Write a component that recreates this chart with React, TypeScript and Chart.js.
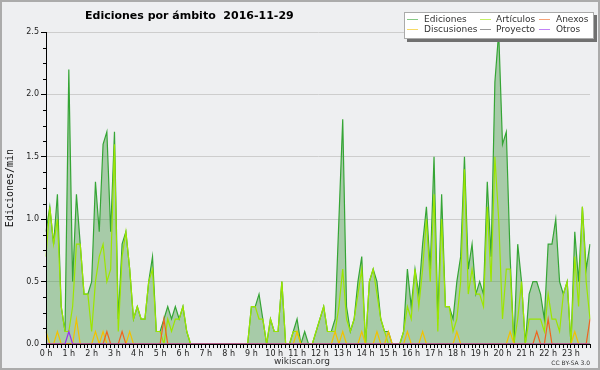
import React, { useEffect, useRef } from 'react';
import { Chart, registerables } from 'chart.js';

Chart.register(...registerables);

// 10-minute slots of the day (categories)
const times: string[] = [];
for (let h = 0; h < 24; h++) {
  for (let m = 0; m < 60; m += 10) times.push(`${h}:${m < 10 ? '0' + m : m}`);
}

const hourLabels = [
  '0 h', '1 h', '2 h', '3 h', '4 h', '5 h', '6 h', '7 h', '8 h', '9 h', '10 h', '11 h',
  '12 h', '13 h', '14 h', '15 h', '16 h', '17 h', '18 h', '19 h', '20 h', '21 h', '22 h', '23 h',
];

const yTicks = [0, 0.5, 1, 1.5, 2, 2.5];

const ediciones = [
  0.9, 1.1, 0.8, 1.2, 0.3, 0.1, 2.2, 0.5, 1.2, 0.8, 0.4, 0.4,
  0.5, 1.3, 0.9, 1.6, 1.7, 0.9, 1.7, 0.2, 0.8, 0.9, 0.6, 0.2,
  0.3, 0.2, 0.2, 0.5, 0.7, 0.1, 0.1, 0.2, 0.3, 0.2, 0.3, 0.2,
  0.3, 0.1, 0, 0, 0, 0, 0, 0, 0, 0, 0, 0,
  0, 0, 0, 0, 0, 0, 0.3, 0.3, 0.4, 0.2, 0, 0.2,
  0.1, 0.1, 0.5, 0, 0, 0.1, 0.2, 0, 0.1, 0, 0, 0.1,
  0.2, 0.3, 0.1, 0.1, 0.2, 1.0, 1.8, 0.3, 0.1, 0.2, 0.5, 0.7,
  0, 0.5, 0.6, 0.5, 0.2, 0.1, 0.1, 0, 0, 0, 0.1, 0.6,
  0.3, 0.6, 0.4, 0.8, 1.1, 0.6, 1.5, 0.2, 1.2, 0.3, 0.3, 0.2,
  0.5, 0.7, 1.5, 0.6, 0.8, 0.4, 0.5, 0.4, 1.3, 0.7, 2.1, 2.5,
  1.6, 1.7, 0.7, 0, 0.8, 0.5, 0, 0.4, 0.5, 0.5, 0.4, 0.2,
  0.8, 0.8, 1.0, 0.5, 0.4, 0.5, 0, 0.9, 0.5, 1.1, 0.6, 0.8,
];

const articulos = [
  0.7, 1.1, 0.8, 1.0, 0.3, 0.1, 0.1, 0.3, 0.8, 0.8, 0.4, 0.4,
  0.1, 0.5, 0.7, 0.8, 0.5, 0.6, 1.6, 0.1, 0.7, 0.9, 0.6, 0.2,
  0.3, 0.2, 0.2, 0.5, 0.6, 0.1, 0.1, 0, 0.2, 0.1, 0.2, 0.2,
  0.3, 0.1, 0, 0, 0, 0, 0, 0, 0, 0, 0, 0,
  0, 0, 0, 0, 0, 0, 0.3, 0.3, 0.2, 0.2, 0, 0.2,
  0.1, 0.1, 0.5, 0, 0, 0.1, 0.1, 0, 0, 0, 0, 0.1,
  0.2, 0.3, 0.1, 0.1, 0.1, 0.3, 0.6, 0.2, 0.1, 0.2, 0.4, 0.6,
  0, 0.5, 0.6, 0.4, 0.2, 0.1, 0, 0, 0, 0, 0.1, 0.3,
  0.2, 0.6, 0.3, 0.6, 1.0, 0.5, 1.2, 0.1, 1.0, 0.3, 0.3, 0.1,
  0.2, 0.5, 1.4, 0.4, 0.6, 0.4, 0.4, 0.3, 1.1, 0.5, 1.5, 1.0,
  0.2, 0.6, 0.6, 0, 0.2, 0.5, 0, 0.2, 0.2, 0.2, 0.2, 0.1,
  0.4, 0.2, 0.2, 0.1, 0.4, 0.5, 0, 0.7, 0.3, 1.1, 0.5, 0.2,
];

const anexos = [
  0, 0, 0, 0, 0, 0, 0, 0, 0, 0, 0, 0,
  0, 0, 0, 0, 0.1, 0, 0, 0, 0.1, 0, 0, 0,
  0, 0, 0, 0, 0, 0, 0, 0.2, 0, 0, 0, 0,
  0, 0, 0, 0, 0, 0, 0, 0, 0, 0, 0, 0,
  0, 0, 0, 0, 0, 0, 0, 0, 0, 0, 0, 0,
  0, 0, 0, 0, 0, 0, 0, 0, 0, 0, 0, 0,
  0, 0, 0, 0, 0, 0, 0, 0, 0, 0, 0, 0,
  0, 0, 0, 0, 0, 0, 0, 0, 0, 0, 0, 0,
  0, 0, 0, 0, 0, 0, 0, 0, 0, 0, 0, 0,
  0, 0, 0, 0, 0, 0, 0, 0, 0, 0, 0, 0,
  0, 0, 0, 0, 0, 0, 0, 0, 0, 0.1, 0, 0,
  0.2, 0, 0, 0, 0, 0, 0, 0, 0, 0, 0, 0.2,
];

const discusiones = [
  0.1, 0, 0, 0.1, 0, 0, 0, 0, 0.2, 0, 0, 0,
  0, 0.1, 0, 0.1, 0, 0, 0, 0, 0, 0, 0.1, 0,
  0, 0, 0, 0, 0, 0, 0, 0, 0, 0, 0, 0,
  0, 0, 0, 0, 0, 0, 0, 0, 0, 0, 0, 0,
  0, 0, 0, 0, 0, 0, 0, 0, 0, 0, 0, 0,
  0, 0, 0, 0, 0, 0, 0.1, 0, 0, 0, 0, 0,
  0, 0, 0, 0, 0.1, 0, 0.1, 0, 0, 0, 0, 0.1,
  0, 0, 0, 0.1, 0, 0, 0.1, 0, 0, 0, 0, 0.1,
  0, 0, 0, 0.1, 0, 0, 0, 0, 0, 0, 0, 0,
  0.1, 0, 0, 0, 0, 0, 0, 0, 0, 0, 0, 0,
  0, 0, 0.1, 0, 0, 0, 0, 0, 0, 0, 0, 0,
  0, 0, 0, 0, 0, 0, 0, 0.1, 0, 0, 0, 0,
];

const proyecto = [
  0, 0, 0, 0, 0, 0, 0, 0, 0, 0, 0, 0,
  0, 0, 0, 0, 0, 0, 0, 0, 0, 0, 0, 0,
  0, 0, 0, 0, 0, 0, 0, 0, 0, 0, 0, 0,
  0, 0, 0, 0, 0, 0, 0, 0, 0, 0, 0, 0,
  0, 0, 0, 0, 0, 0, 0, 0, 0, 0, 0, 0,
  0, 0, 0, 0, 0, 0, 0, 0, 0, 0, 0, 0,
  0, 0, 0, 0, 0, 0, 0, 0, 0, 0, 0, 0,
  0, 0, 0, 0, 0, 0, 0, 0, 0, 0, 0, 0,
  0, 0, 0, 0, 0, 0, 0, 0, 0, 0, 0, 0,
  0, 0, 0, 0, 0, 0, 0, 0, 0, 0, 0, 0,
  0, 0, 0, 0, 0, 0, 0, 0, 0, 0, 0, 0,
  0, 0, 0, 0, 0, 0, 0, 0, 0, 0, 0, 0,
];

const otros = [
  0, 0, 0, 0, 0, 0, 0.1, 0, 0, 0, 0, 0,
  0, 0, 0, 0, 0, 0, 0, 0, 0, 0, 0, 0,
  0, 0, 0, 0, 0, 0, 0, 0, 0, 0, 0, 0,
  0, 0, 0, 0, 0, 0, 0, 0, 0, 0, 0, 0,
  0, 0, 0, 0, 0, 0, 0, 0, 0, 0, 0, 0,
  0, 0, 0, 0, 0, 0, 0, 0, 0, 0, 0, 0,
  0, 0, 0, 0, 0, 0, 0, 0, 0, 0, 0, 0,
  0, 0, 0, 0, 0, 0, 0, 0, 0, 0, 0, 0,
  0, 0, 0, 0, 0, 0, 0, 0, 0, 0, 0, 0,
  0, 0, 0, 0, 0, 0, 0, 0, 0, 0, 0, 0,
  0, 0, 0, 0, 0, 0, 0, 0, 0, 0, 0, 0,
  0, 0, 0, 0, 0, 0, 0, 0, 0, 0, 0, 0,
];

const FONT = "'DejaVu Sans', sans-serif";
const BG = '#eeeff1';

const decor = {
  id: 'decor',
  beforeDraw(chart: any) {
    const { ctx, width, height } = chart;
    ctx.save();
    ctx.fillStyle = BG;
    ctx.fillRect(0, 0, width, height);
    ctx.restore();
  },
  afterDraw(chart: any) {
    const { ctx, width, height } = chart;
    const ys = chart.scales.y;
    ctx.save();
    // minor y ticks
    ctx.strokeStyle = '#000';
    ctx.lineWidth = 1;
    for (let k = 1; k < 20; k++) {
      if (k % 4 === 0) continue;
      const py = Math.round(ys.getPixelForValue(k * 0.125)) + 0.5;
      ctx.beginPath();
      ctx.moveTo(ys.right - 3, py);
      ctx.lineTo(ys.right, py);
      ctx.stroke();
    }
    // frame
    ctx.strokeStyle = '#ababab';
    ctx.lineWidth = 2;
    ctx.strokeRect(1, 1, width - 2, height - 2);

    // title
    ctx.fillStyle = '#000';
    ctx.font = `bold 11px ${FONT}`;
    ctx.textAlign = 'left';
    ctx.textBaseline = 'alphabetic';
    ctx.fillText('Ediciones por ámbito  2016-11-29', 85, 19);

    // y title
    ctx.save();
    ctx.translate(10, 188);
    ctx.rotate(-Math.PI / 2);
    ctx.font = `10px 'DejaVu Sans Mono', monospace`;
    ctx.textAlign = 'center';
    ctx.textBaseline = 'middle';
    ctx.fillStyle = '#111';
    ctx.fillText('Ediciones/min', 0, 0);
    ctx.restore();

    // footer
    ctx.fillStyle = '#333';
    ctx.font = `9px ${FONT}`;
    ctx.textAlign = 'center';
    ctx.textBaseline = 'alphabetic';
    ctx.fillText('wikiscan.org', 302, 364);
    ctx.font = `6px ${FONT}`;
    ctx.textAlign = 'right';
    ctx.fillText('CC BY-SA 3.0', 590, 365);

    // legend
    const bx = 404, by = 12, bw = 190, bh = 27;
    ctx.fillStyle = '#707070';
    ctx.fillRect(bx + 3, by + 3, bw, bh);
    ctx.fillStyle = '#fff';
    ctx.fillRect(bx, by, bw, bh);
    ctx.strokeStyle = '#aaa';
    ctx.lineWidth = 1;
    ctx.strokeRect(bx + 0.5, by + 0.5, bw - 1, bh - 1);
    const colLine = [407, 480, 539];
    const colText = [424, 496, 556];
    const rowY = [19, 29];
    ctx.font = `9px ${FONT}`;
    ctx.textAlign = 'left';
    ctx.textBaseline = 'middle';
    chart.data.datasets.forEach((ds: any, k: number) => {
      const c = k % 3, r = Math.floor(k / 3);
      ctx.globalAlpha = 0.6;
      ctx.strokeStyle = ds.borderColor;
      ctx.lineWidth = 1;
      ctx.beginPath();
      ctx.moveTo(colLine[c], rowY[r] + 0.5);
      ctx.lineTo(colLine[c] + 11, rowY[r] + 0.5);
      ctx.stroke();
      ctx.globalAlpha = 1;
      ctx.fillStyle = '#333';
      ctx.fillText(ds.label, colText[c], rowY[r] + 0.5);
    });
    ctx.restore();
  },
};

export default function App() {
  const ref = useRef<HTMLCanvasElement>(null);
  useEffect(() => {
    const canvas = ref.current;
    if (!canvas) return;
    const line = (label: string, data: number[], color: string, order: number, extra: any = {}) => ({
      label, data, borderColor: color, borderWidth: 1.2, pointRadius: 0, tension: 0, fill: false, order, ...extra,
    });
    const chart = new Chart(canvas, {
      type: 'line',
      data: {
        labels: times,
        datasets: [
          line('Ediciones', ediciones, '#35a535', 10, { fill: 'origin', backgroundColor: 'rgba(60,150,60,0.4)' }),
          line('Artículos', articulos, '#9ce600', 6),
          line('Anexos', anexos, '#f0641e', 2),
          line('Discusiones', discusiones, '#f2c200', 3),
          line('Proyecto', proyecto, '#555555', 4),
          line('Otros', otros, '#9a30f0', 1),
        ],
      },
      options: {
        responsive: false,
        animation: false,
        devicePixelRatio: 1,
        layout: { padding: { top: 32, right: 10, left: 0, bottom: 0 } },
        plugins: { legend: { display: false }, title: { display: false }, tooltip: { enabled: false } },
        scales: {
          x: {
            type: 'category',
            offset: false,
            grid: { display: true, drawOnChartArea: false, drawTicks: true, tickLength: 4, color: '#000', tickColor: '#000', z: 1 } as any,
            border: { color: '#000', width: 1, z: 1 } as any,
            ticks: {
              autoSkip: false, maxRotation: 0, minRotation: 0, padding: 1, z: 1,
              color: '#222', font: { family: FONT, size: 8 },
              callback: (_v: any, i: number) => (i % 6 === 0 ? hourLabels[i / 6] : ''),
            },
            afterFit: (s: any) => { s.height = 26; },
          },
          y: {
            min: 0,
            max: 2.5,
            afterBuildTicks: (s: any) => { s.ticks = yTicks.map((v) => ({ value: v })); },
            grid: { color: '#cdcdcd', tickColor: '#000', tickLength: 5 },
            border: { color: '#000', width: 1, z: 1 } as any,
            ticks: {
              padding: 2, color: '#222', font: { family: FONT, size: 8 },
              callback: (v: any) => Number(v).toFixed(1),
            },
            afterFit: (s: any) => { s.width = 46; },
          },
        },
      },
      plugins: [decor],
    } as any);
    return () => chart.destroy();
  }, []);
  return (
    <div style={{ position: 'fixed', left: 0, top: 0, width: 600, height: 370 }}>
      <canvas ref={ref} width={600} height={370} style={{ display: 'block', width: 600, height: 370 }} />
    </div>
  );
}
